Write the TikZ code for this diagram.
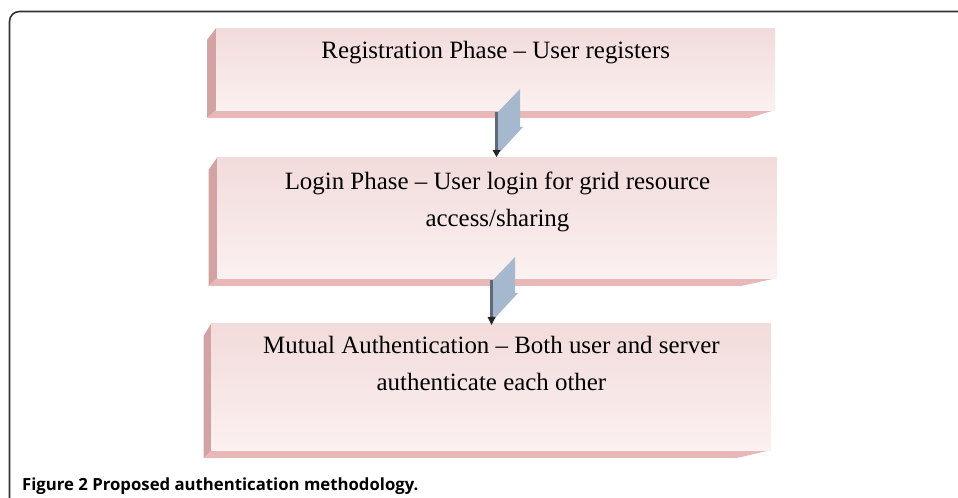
\documentclass[tikz,border=0pt]{standalone}
\usepackage{fontspec}
\setmainfont{Liberation Serif}
\newfontfamily\capfont{Open Sans}
\begin{document}
\begin{tikzpicture}[x=1bp,y=-1bp,
  frontface/.style={draw=none, top color=frontTop, bottom color=frontBot, inner sep=0pt, anchor=north west, rectangle},
  leftface/.style={fill=leftCol, draw=none},
  bottomface/.style={fill=botCol, draw=none},
  arrowface/.style={fill=arrFace, draw=none},
  arrowedge/.style={fill=arrEdge, draw=none},
  arrowtip/.style={fill=black!85, draw=none},
  boxtext/.style={font=\fontsize{25}{37.5}\selectfont, align=center, anchor=base, inner sep=0pt, text=black},
  framestyle/.style={draw=frameCol, line width=1.6bp, rounded corners=10bp}
]
\definecolor{frontTop}{HTML}{F2DBDB}
\definecolor{frontBot}{HTML}{FBF1F0}
\definecolor{leftCol}{HTML}{D3A3A3}
\definecolor{botCol}{HTML}{E7B8B7}
\definecolor{arrFace}{HTML}{A6B8CE}
\definecolor{arrEdge}{HTML}{5E6A78}
\definecolor{frameCol}{HTML}{333333}
\useasboundingbox (0,0) rectangle (958,498);

% frame
\draw[framestyle] (9.5,499) -- (9.5,11.5) -- (960,11.5);

% box 1
\fill[leftface] (207,40) -- (216,28) -- (216,110) -- (207,118) -- cycle;
\fill[bottomface] (207,118) -- (216,110) -- (775,110) -- (749,118) -- cycle;
\node[frontface, minimum width=559bp, minimum height=82bp] (b1) at (216,28) {};
\node[boxtext] (t1) at (b1.north |- 0,59) {Registration Phase -- User registers};

% box 2
\fill[leftface] (208.5,170) -- (217.5,157) -- (217.5,278) -- (208.5,286) -- cycle;
\fill[bottomface] (208.5,286) -- (217.5,278) -- (777,278) -- (741,286) -- cycle;
\node[frontface, minimum width=559.5bp, minimum height=121bp] (b2) at (217.5,157) {};
\node[boxtext] (t2) at (b2.north |- 0,226.5) {Login Phase -- User login for grid resource\\access/sharing};

% box 3
\fill[leftface] (203.5,336) -- (211.5,323) -- (211.5,450) -- (203.5,458) -- cycle;
\fill[bottomface] (203.5,458) -- (211.5,450) -- (771,450) -- (737,458) -- cycle;
\node[frontface, minimum width=559.5bp, minimum height=127bp] (b3) at (211.5,323) {};
\node[boxtext] (t3) at (b3.north |- 0,390.5) {Mutual Authentication -- Both user and server\\authenticate each other};

% arrow 1 (from b1 to b2)
\fill[arrowface] (498,112) -- (520,89) -- (520,127) -- (523,127) -- (500,152) -- (498,152) -- cycle;
\fill[arrowedge] (495,112) -- (498,112) -- (498,152) -- (495,152) -- cycle;
\fill[arrowtip] (492.5,150) -- (500.5,150) -- (496.5,157) -- cycle;

% arrow 2 (from b2 to b3)
\fill[arrowface] (493,280) -- (515,257) -- (515,293) -- (518,293) -- (495,318) -- (493,318) -- cycle;
\fill[arrowedge] (490,280) -- (493,280) -- (493,318) -- (490,318) -- cycle;
\fill[arrowtip] (487.5,317) -- (495.5,317) -- (491.5,325) -- cycle;

% caption
\node[anchor=base west, inner sep=0pt, font=\capfont\bfseries\fontsize{16.8}{18}\selectfont] (cap) at (22,490) {Figure 2 Proposed authentication methodology.};
\end{tikzpicture}
\end{document}
